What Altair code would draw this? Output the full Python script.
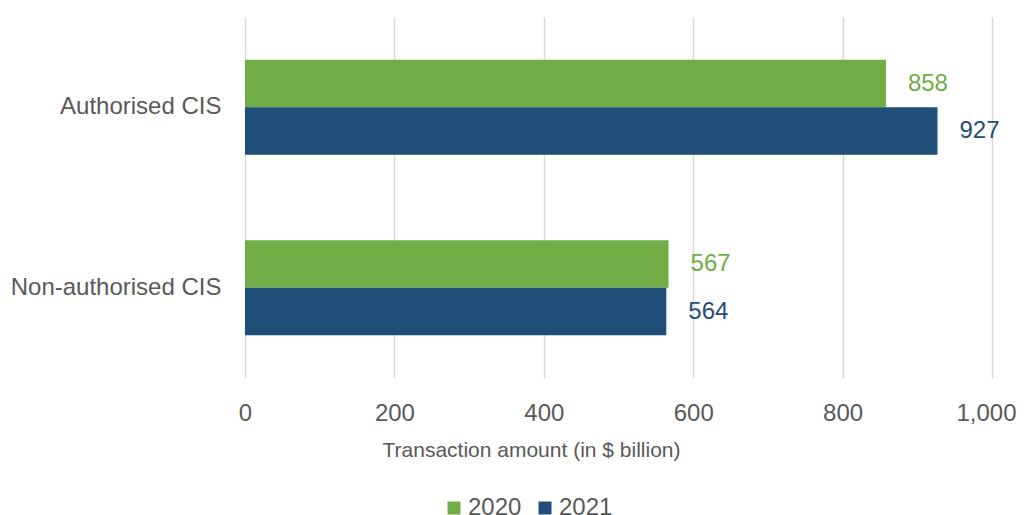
import altair as alt
import pandas as pd

categories = ["Authorised CIS", "Authorised CIS", "Non-authorised CIS", "Non-authorised CIS"]
years = ["2020", "2021", "2020", "2021"]
values = [858, 927, 567, 564]
tick_values = [0, 200, 400, 600, 800, 1000]

df = pd.DataFrame({"category": categories, "year": years, "value": values})

colors = ["#70AD47", "#1F4E79"]
font = "Liberation Sans"
grey = "#595959"

y_enc = alt.Y("category:N", title=None, sort=["Authorised CIS", "Non-authorised CIS"],
              scale=alt.Scale(paddingInner=0.0, paddingOuter=0.0),
              axis=alt.Axis(labelFontSize=24, labelColor=grey, labelFont=font, ticks=False,
                            domain=False, labelPadding=24, grid=False, labelLimit=400))
x_enc = alt.X("value:Q", title="Transaction amount (in $ billion)",
              scale=alt.Scale(domain=[0, 1000]),
              axis=alt.Axis(values=tick_values, format=",d", labelFontSize=24,
                            labelColor=grey, labelFont=font, ticks=False, domain=False,
                            labelFlush=False, labelPadding=23, gridColor="#D9D9D9", gridWidth=1.5,
                            labelOffset=alt.ExprRef("datum.value == 1000 ? -6 : 0"),
                            titleFontSize=21, titleFont=font, titleColor=grey,
                            titleFontWeight="normal", titlePadding=14,
                            titleX=286, titleAlign="center"))
color_enc = alt.Color("year:N", scale=alt.Scale(domain=["2020", "2021"], range=colors),
                      legend=alt.Legend(title=None, orient="none", legendX=197, legendY=479,
                                        direction="horizontal", symbolType="square",
                                        symbolSize=169, symbolStrokeWidth=0, labelFontSize=24,
                                        labelColor=grey, labelFont=font, labelOffset=2,
                                        columnPadding=11))
yoff = alt.YOffset("year:N", sort=["2020", "2021"], scale=alt.Scale(paddingOuter=0.9, paddingInner=0))

bars = alt.Chart(df).mark_bar().encode(y=y_enc, x=x_enc, color=color_enc, yOffset=yoff)
labels = alt.Chart(df).mark_text(align="left", dx=22, fontSize=24, font=font).encode(
    y=y_enc, x=x_enc, yOffset=yoff, text=alt.Text("value:Q"),
    color=alt.Color("year:N", scale=alt.Scale(domain=["2020", "2021"], range=colors), legend=None))

chart = (bars + labels).properties(
    width=747, height=361,
    autosize=alt.AutoSizeParams(type="none"),
    padding={"left": 237, "top": 9, "right": 24, "bottom": 137},
).configure_view(stroke=None)

chart.save("out.html", embed_options={"renderer": "svg", "actions": False})
